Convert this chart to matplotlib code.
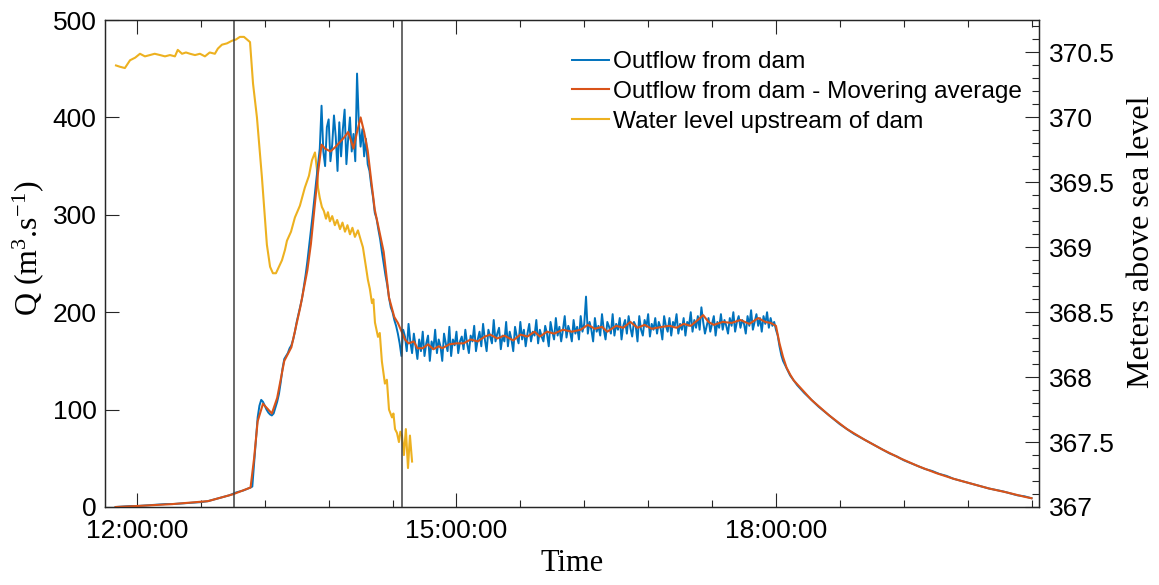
import matplotlib
matplotlib.use("Agg")
import matplotlib.pyplot as plt
import matplotlib.dates as mdates
from matplotlib.ticker import FixedLocator, MultipleLocator, FuncFormatter
import numpy as np
from datetime import datetime, timedelta

# -------------------------------
# Data (minutes after 12:00)
# -------------------------------
# sample times: coarse before the release, 1 min while noisy, coarse in the recession
flow_min = np.concatenate([np.arange(-12, 64, 4), np.arange(64, 364, 1), np.arange(364, 505, 4)])
flow_raw = [
    0, 0.5, 1, 1, 1.5, 2, 2.5, 3, 3, 3.5, 4, 4.5, 5, 6, 8, 10, 12, 15, 17,
    # 64 .. 363, one per minute
    20, 21, 45, 70, 92, 104, 110, 108, 104, 100,
    97, 95, 94, 96, 102, 108, 116, 128, 142, 152,
    155, 158, 163, 166, 172, 180, 190, 198, 206, 214,
    226, 238, 252, 268, 285, 300, 318, 335, 352, 368,
    412, 365, 350, 390, 398, 355, 372, 402, 380, 345,
    395, 360, 388, 408, 352, 378, 400, 365, 383, 355,
    445, 395, 370, 388, 360, 378, 352, 345, 330, 318,
    302, 296, 285, 275, 262, 250, 238, 228, 215, 205,
    200, 192, 186, 178, 168, 155, 182, 175, 160, 188,
    170, 158, 178, 165, 152, 172, 160, 180, 155, 168,
    176, 150, 170, 162, 182, 158, 172, 165, 150, 178,
    168, 160, 185, 155, 172, 166, 180, 158, 170, 175,
    162, 182, 168, 158, 176, 170, 186, 160, 172, 180,
    165, 188, 172, 160, 182, 175, 168, 192, 170, 178,
    184, 162, 176, 170, 190, 165, 180, 172, 160, 185,
    175, 168, 190, 172, 182, 165, 178, 188, 170, 180,
    176, 192, 168, 182, 175, 170, 186, 178, 165, 190,
    180, 172, 194, 176, 185, 170, 182, 196, 174, 186,
    180, 170, 192, 178, 185, 172, 196, 180, 188, 216,
    178, 190, 182, 170, 194, 180, 186, 176, 198, 182,
    172, 190, 185, 178, 198, 176, 188, 182, 194, 172,
    186, 192, 178, 196, 184, 175, 190, 186, 170, 196,
    182, 176, 192, 185, 198, 175, 188, 182, 194, 178,
    190, 184, 172, 196, 186, 180, 194, 176, 190, 186,
    198, 178, 188, 182, 194, 176, 190, 186, 200, 180,
    192, 184, 196, 182, 205, 190, 178, 186, 194, 180,
    188, 196, 176, 190, 184, 198, 182, 192, 186, 178,
    194, 186, 200, 180, 190, 196, 184, 192, 188, 178,
    196, 186, 202, 182, 190, 198, 186, 194, 180, 196,
    188, 200, 184, 194, 186, 190, 182, 176, 165, 156,
    # 364 .. 504, every 4 min
    150, 135, 125, 117, 110, 103, 97, 91, 85, 80,
    75, 71, 67, 63, 59, 55, 52, 48, 45, 42,
    39, 37, 34, 32, 29, 27, 25, 23, 21, 19,
    17.5, 16, 14, 12, 11, 9,
]

ma_min = [-12, 0, 20, 40, 54, 64, 66, 68, 71, 74, 76, 79, 83, 87, 92, 96, 98, 102, 104,
          106, 109, 112, 114, 117, 119, 122, 124, 126, 128, 130, 132, 134, 136, 139, 142,
          145, 147, 151, 153, 156, 158, 161, 164, 167, 170, 172, 176, 180, 184, 188, 192,
          196, 199, 203, 207, 212, 216, 220, 224, 227, 231, 235, 240, 245, 250, 254, 258,
          262, 265, 270, 274, 278, 282, 286, 290, 296, 300, 304, 308, 312, 316, 319, 322,
          325, 330, 335, 340, 345, 350, 354, 357, 360, 362, 364, 366, 368, 370, 375, 380,
          390, 400, 410, 420, 430, 440, 450, 460, 470, 480, 490, 500, 504]
ma_flow = [0, 1, 3, 6, 13, 20, 50, 88, 106, 100, 96, 112, 150, 164, 205, 243, 270, 343, 372,
           368, 365, 370, 374, 380, 385, 368, 385, 400, 385, 366, 335, 305, 288, 262, 215,
           195, 189, 172, 168, 170, 163, 163, 167, 162, 165, 163, 167, 168, 168, 172, 170,
           175, 177, 173, 176, 171, 177, 175, 180, 175, 180, 178, 182, 180, 182, 187, 183,
           185, 180, 186, 184, 190, 184, 187, 183, 185, 186, 184, 188, 186, 192, 197, 190,
           187, 190, 189, 192, 188, 194, 190, 189, 186, 168, 154, 143, 136, 130, 120, 110,
           94, 80, 69, 59, 50, 42, 35, 29, 24, 19, 15, 10.5, 9]

level_min = [-11.8, -9.6, -6.8, -3.9, -1, 1.7, 4.5, 7.3, 10, 13, 15.8, 18.6, 21.4, 23, 25.4,
             27.6, 29.9, 32.7, 35.5, 38.3, 41, 43.9, 45.6, 47.9, 50.7, 53.5, 55.8, 58, 60.3,
             62, 63.7, 65.4, 67.6, 70.4, 73.2, 75, 76.6, 78.3, 80, 81.7, 83.4, 84.5, 86.8,
             89, 91.8, 94.6, 96.9, 98.6, 100.3, 101.4, 102, 103, 104.2, 105.3, 106.5, 107.6,
             108.7, 110, 111.5, 112.8, 114.4, 115.8, 117.2, 118.6, 120, 121.4, 122.8, 124.5,
             126.2, 127.3, 129, 130.1, 131.2, 132.4, 133.2, 134.1, 135.8, 136.8, 138, 139.7,
             140.8, 142, 143.7, 144.5, 145.4, 146.5, 147.6, 148.4, 149.3, 150.4, 151.5, 152.7,
             153.8, 155]
level_m = [370.40, 370.39, 370.38, 370.44, 370.46, 370.49, 370.47, 370.48, 370.49, 370.48,
           370.47, 370.48, 370.47, 370.52, 370.49, 370.50, 370.49, 370.48, 370.49, 370.47,
           370.50, 370.49, 370.53, 370.56, 370.57, 370.59, 370.60, 370.62, 370.62, 370.60,
           370.58, 370.26, 370.00, 369.54, 369.02, 368.85, 368.80, 368.80, 368.85, 368.90,
           368.98, 369.05, 369.12, 369.23, 369.32, 369.46, 369.55, 369.67, 369.73, 369.60,
           369.46, 369.38, 369.31, 369.28, 369.22, 369.27, 369.20, 369.24, 369.17, 369.21,
           369.14, 369.19, 369.12, 369.17, 369.10, 369.15, 369.08, 369.13, 369.05, 369.00,
           368.85, 368.75, 368.68, 368.57, 368.60, 368.42, 368.31, 368.34, 368.12, 367.95,
           367.98, 367.75, 367.69, 367.72, 367.60, 367.57, 367.50, 367.58, 367.55, 367.40,
           367.60, 367.30, 367.55, 367.35]

event_min = [54.6, 149.3]

# -------------------------------
# Helpers
# -------------------------------
base = datetime(2020, 1, 1, 12, 0)


def to_time(minutes):
    return [base + timedelta(minutes=float(m)) for m in minutes]


plt.rcParams["font.family"] = ["Liberation Sans", "DejaVu Sans"]
plt.rcParams["mathtext.fontset"] = "custom"
plt.rcParams["mathtext.rm"] = "Liberation Serif"
plt.rcParams["mathtext.it"] = "Liberation Serif:italic"

BLUE = "#0072BD"
ORANGE = "#D95319"
YELLOW = "#EDB120"
AXC = "#262626"

fig = plt.figure(figsize=(11.59, 5.85), dpi=100)
ax = fig.add_axes([105 / 1159, 78 / 585, 934 / 1159, 487 / 585])
ax2 = ax.twinx()
ax.set_zorder(ax2.get_zorder() + 1)
ax.patch.set_visible(False)

l3, = ax2.plot(to_time(level_min), level_m, color=YELLOW, lw=1.5,
               label="Water level upstream of dam")
l1, = ax.plot(to_time(flow_min), flow_raw, color=BLUE, lw=1.4, label="Outflow from dam")
l2, = ax.plot(to_time(ma_min), ma_flow, color=ORANGE, lw=1.5,
              label="Outflow from dam - Movering average")
for m in event_min:
    ax.axvline(base + timedelta(minutes=m), color="#404040", lw=1.1)

# -------------------------------
# Axes styling
# -------------------------------
ax.set_xlim(base - timedelta(minutes=18), base + timedelta(minutes=508.2))
ax.set_ylim(0, 500)
ax2.set_ylim(367, 370.75)

major = [base + timedelta(hours=h) for h in (0, 3, 6)]
minor = [base + timedelta(minutes=36 * k) for k in range(15)]
ax.xaxis.set_major_locator(FixedLocator(mdates.date2num(major)))
ax.xaxis.set_minor_locator(FixedLocator(mdates.date2num(minor)))
ax.xaxis.set_major_formatter(mdates.DateFormatter("%H:%M:%S"))
ax.yaxis.set_major_locator(MultipleLocator(100))
ax2.yaxis.set_major_locator(MultipleLocator(0.5))
ax2.yaxis.set_minor_locator(MultipleLocator(0.1))
ax2.yaxis.set_major_formatter(FuncFormatter(lambda v, p: f"{v:g}"))

ax.tick_params(axis="x", which="both", direction="in", top=True, labelsize=19,
               pad=9, color=AXC, width=0.8)
ax.tick_params(axis="x", which="major", length=10)
ax.tick_params(axis="x", which="minor", length=5)
ax.tick_params(axis="y", which="major", direction="in", length=10, width=0.8,
               labelsize=19, pad=6, color=AXC, right=False)
ax2.tick_params(axis="y", which="major", direction="in", length=10, width=0.8,
                labelsize=19, pad=7, color=AXC)
ax2.tick_params(axis="y", which="minor", direction="in", length=5, width=0.8, color=AXC)

for a in (ax, ax2):
    for s in a.spines.values():
        s.set_color(AXC)
        s.set_linewidth(0.9)

ax.set_xlabel("Time", family="Liberation Serif", fontsize=22, labelpad=4)
ax.set_ylabel("Q (m$^{3}$.s$^{-1}$)", family="Liberation Serif", fontsize=23)
ax2.set_ylabel("Meters above sea level", family="Liberation Serif", fontsize=23)
# left label: anchor is its right edge; right label: anchor is its left edge
ax.yaxis.set_label_coords((46 - 105) / 934, (507 - 248) / 487)
ax2.yaxis.set_label_coords((1127 - 105) / 934, (507 - 242) / 487)

ax.legend(handles=[l1, l2, l3], loc="upper left", bbox_to_anchor=(572 / 1159, 1 - 51 / 585),
          bbox_transform=fig.transFigure, frameon=False, fontsize=17.6, borderpad=0,
          borderaxespad=0, handlelength=1.5, handletextpad=0.16, labelspacing=0.32)

fig.savefig("out.png", dpi=100)
